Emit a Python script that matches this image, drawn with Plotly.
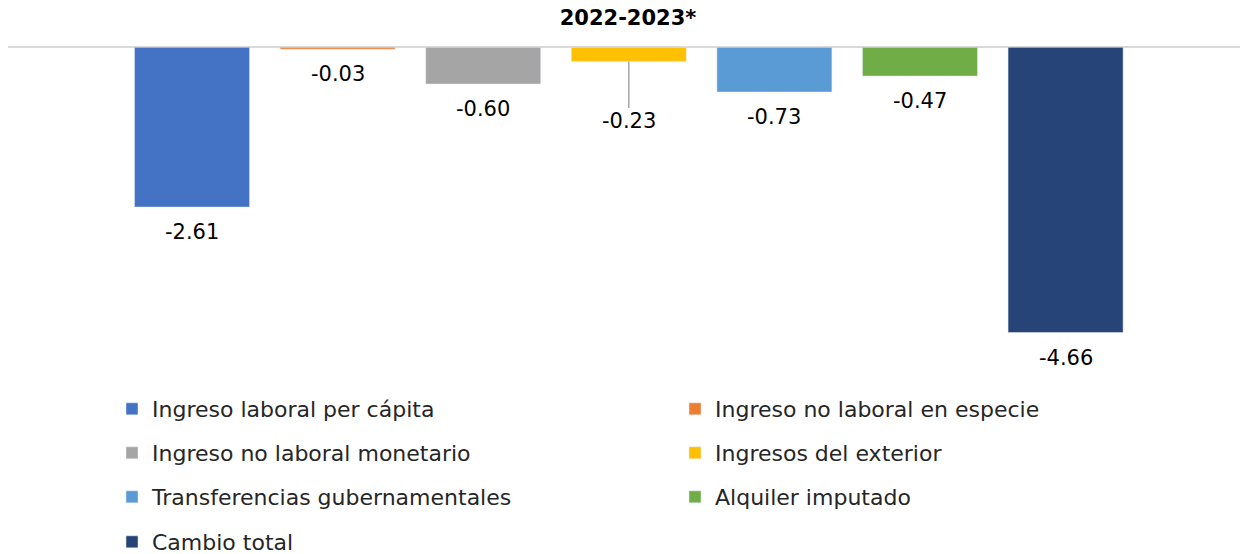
import plotly.graph_objects as go

categories = [
    "Ingreso laboral per cápita",
    "Ingreso no laboral en especie",
    "Ingreso no laboral monetario",
    "Ingresos del exterior",
    "Transferencias gubernamentales",
    "Alquiler imputado",
    "Cambio total",
]
values = [-2.61, -0.03, -0.60, -0.23, -0.73, -0.47, -4.66]
labels = ["-2.61", "-0.03", "-0.60", "-0.23", "-0.73", "-0.47", "-4.66"]
colors = ["#4472C4", "#ED7D31", "#A5A5A5", "#FFC000", "#5B9BD5", "#70AD47", "#264478"]
title_text = "2022-2023*"

W, H = 1240, 554
FONT = "DejaVu Sans"

fig = go.Figure()

# legend placement: two columns, four rows (container px)
leg_cols = [112, 675]
leg_rows = [409, 453, 497, 542]

for i, (cat, val, col) in enumerate(zip(categories, values, colors)):
    lname = "legend" if i == 0 else f"legend{i+1}"
    fig.add_trace(go.Bar(
        x=[cat], y=[val], name=cat, marker_color=col, width=0.79,
        legend=lname, hoverinfo="skip",
    ))
    r, c = divmod(i, 2)
    fig.update_layout({lname: dict(
        x=leg_cols[c] / W, y=1 - leg_rows[r] / H,
        xref="container", yref="container",
        xanchor="left", yanchor="middle",
        orientation="h", bgcolor="rgba(0,0,0,0)",
        font=dict(family=FONT, size=22, color="#262626"),
        itemwidth=30,
    )})

# data labels
for i, (cat, val, lab) in enumerate(zip(categories, values, labels)):
    if lab == "-0.23":
        fig.add_annotation(
            x=cat, y=val, text=lab, showarrow=True, arrowhead=0,
            arrowwidth=1.5, arrowcolor="#A6A6A6", ax=0, ay=60, standoff=0,
            font=dict(family=FONT, size=21, color="#000000"),
        )
    else:
        fig.add_annotation(
            x=cat, y=val, text=lab, showarrow=False, yanchor="middle",
            yshift=-25, font=dict(family=FONT, size=21, color="#000000"),
        )

fig.update_layout(
    width=W, height=H,
    margin=dict(l=8, r=0, t=30, b=201),
    paper_bgcolor="white", plot_bgcolor="white",
    barmode="overlay",
    showlegend=True,
    title=dict(text=title_text, x=628 / W, xanchor="center", y=1 - 18 / H,
               yanchor="middle", xref="container", yref="container",
               font=dict(family=FONT, size=21, color="#000000", weight="bold")),
    xaxis=dict(categoryorder="array", categoryarray=categories,
               range=[-1.264, 7.198], showticklabels=False, showgrid=False,
               zeroline=False, showline=False, ticks=""),
    yaxis=dict(range=[-4.995, 0.283], showticklabels=False, showgrid=False,
               zeroline=True, zerolinecolor="#D9D9D9", zerolinewidth=2,
               showline=False, ticks=""),
)

fig.write_html(
    "out.html",
    config={"displayModeBar": False},
    post_script="document.body.style.margin='0px';document.body.style.overflow='hidden';",
)
